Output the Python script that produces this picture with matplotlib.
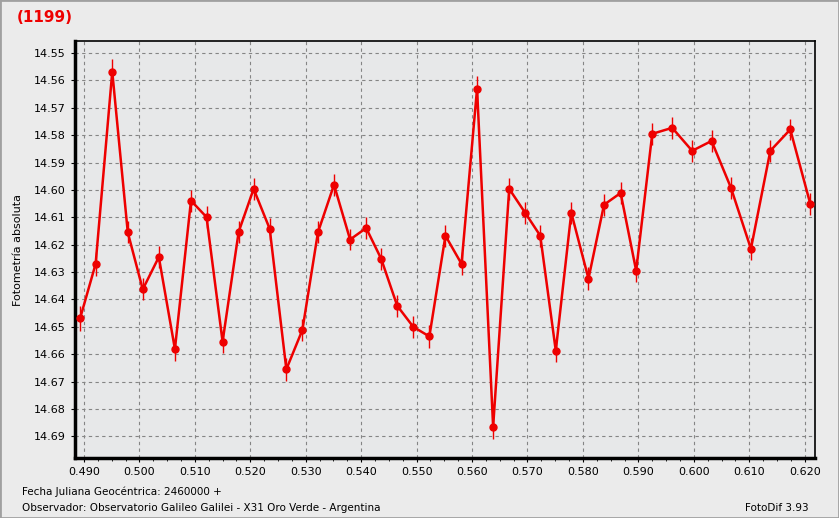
import numpy as np
import matplotlib.pyplot as plt
from matplotlib.ticker import MultipleLocator, FormatStrFormatter

# fecha juliana (parte fraccionaria) y fotometria absoluta
jd = [0.4893, 0.4921, 0.4951, 0.4979, 0.5006, 0.5035, 0.5064, 0.5093, 0.5121,
      0.5150, 0.5179, 0.5206, 0.5235, 0.5265, 0.5294, 0.5322, 0.5351, 0.5380,
      0.5409, 0.5436, 0.5465, 0.5494, 0.5523, 0.5552, 0.5581, 0.5609, 0.5638,
      0.5667, 0.5696, 0.5723, 0.5751, 0.5779, 0.5810, 0.5838, 0.5868, 0.5896,
      0.5925, 0.5961, 0.5997, 0.6032, 0.6067, 0.6103, 0.6138, 0.6174, 0.6210]
mag = [14.6469, 14.6270, 14.5568, 14.6155, 14.6363, 14.6245, 14.6581, 14.6039,
       14.6099, 14.6554, 14.6153, 14.5996, 14.6142, 14.6655, 14.6511, 14.6155,
       14.5981, 14.6181, 14.6139, 14.6251, 14.6423, 14.6500, 14.6535, 14.6167,
       14.6270, 14.5630, 14.6865, 14.5996, 14.6084, 14.6167, 14.6587, 14.6083,
       14.6324, 14.6054, 14.6011, 14.6295, 14.5795, 14.5773, 14.5857, 14.5821,
       14.5992, 14.6215, 14.5857, 14.5779, 14.6050]
err = [0.0045, 0.0043, 0.0045, 0.0040, 0.0040, 0.0040, 0.0042, 0.0040, 0.0040,
       0.0042, 0.0040, 0.0040, 0.0040, 0.0042, 0.0040, 0.0040, 0.0040, 0.0040,
       0.0040, 0.0040, 0.0040, 0.0040, 0.0042, 0.0040, 0.0042, 0.0045, 0.0045,
       0.0040, 0.0040, 0.0040, 0.0042, 0.0040, 0.0042, 0.0040, 0.0040, 0.0042,
       0.0040, 0.0040, 0.0040, 0.0040, 0.0040, 0.0040, 0.0040, 0.0040, 0.0040]

bg = '#ebebeb'
fig = plt.figure(figsize=(8.39, 5.18), dpi=100, facecolor=bg)
ax = fig.add_axes([0.0894, 0.1158, 0.882, 0.805])
ax.set_facecolor('#e7e8e9')

ax.errorbar(jd, mag, yerr=err, color='#ee0000', lw=1.8, marker='o', ms=5,
            ecolor='#ee0000', elinewidth=1, capsize=0, zorder=3)

ax.set_xlim(0.48838, 0.62186)
ax.set_ylim(14.6979, 14.5456)
ax.xaxis.set_major_locator(MultipleLocator(0.01))
ax.xaxis.set_minor_locator(MultipleLocator(0.0025))
ax.yaxis.set_major_locator(MultipleLocator(0.01))
ax.xaxis.set_major_formatter(FormatStrFormatter('%.3f'))
ax.yaxis.set_major_formatter(FormatStrFormatter('%.2f'))
ax.grid(True, which='major', ls=(0, (3, 3)), color='#858585', lw=0.8)
ax.tick_params(labelsize=8, colors='black', length=3)
ax.tick_params(axis='x', which='minor', length=2)

for s in ['left', 'bottom']:
    ax.spines[s].set_linewidth(2.5)
for s in ['top', 'right']:
    ax.spines[s].set_linewidth(1.2)

ax.set_ylabel('Fotometría absoluta', fontsize=8, labelpad=8)

fig.text(17/839, 1-17/518, '(1199)', color='#ee0000', fontsize=11,
         fontweight='bold', va='center', ha='left')
fig.text(22/839, 1-492/518, 'Fecha Juliana Geocéntrica: 2460000 +',
         fontsize=7.5, va='center')
fig.text(22/839, 1-508/518,
         'Observador: Observatorio Galileo Galilei - X31 Oro Verde - Argentina',
         fontsize=7.5, va='center')
fig.text(809/839, 1-508/518, 'FotoDif 3.93', fontsize=7.5, va='center',
         ha='right')

# borde de la ventana
fig.patches.append(plt.Rectangle((0, 0), 1, 1, transform=fig.transFigure,
                                 fill=False, ec='#a0a0a0', lw=2))

plt.savefig('out.png', dpi=100, facecolor=bg)
